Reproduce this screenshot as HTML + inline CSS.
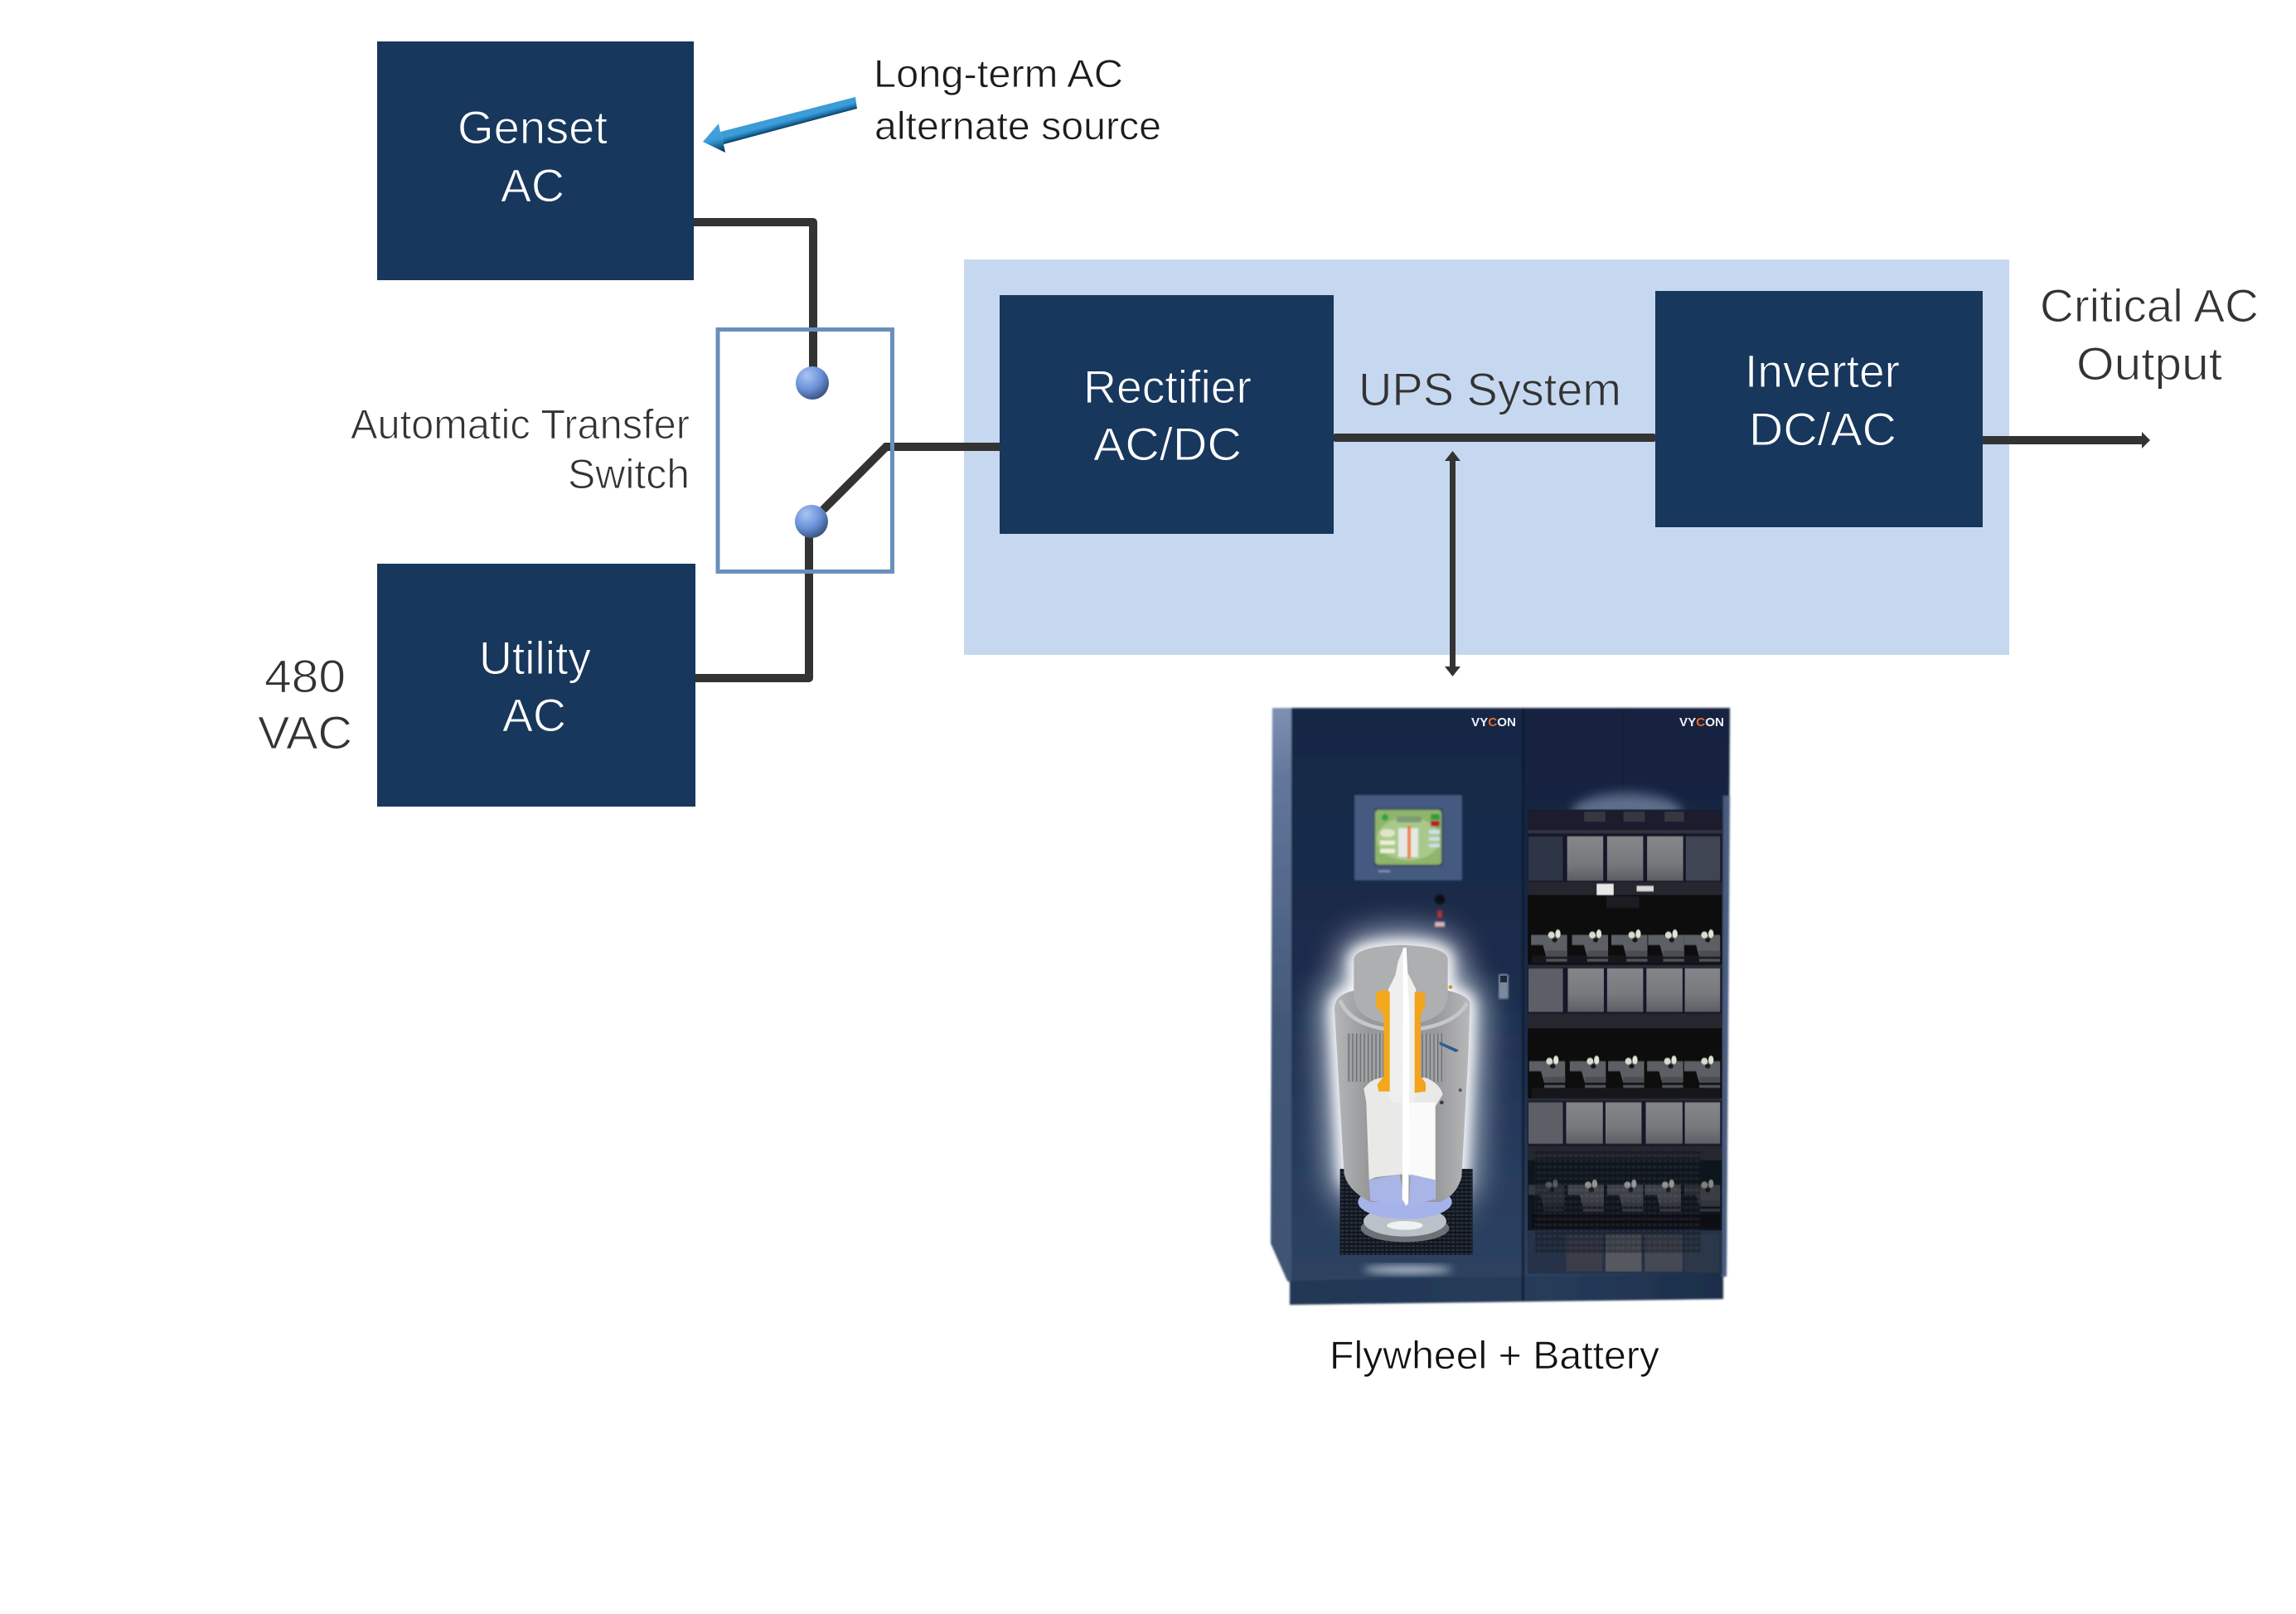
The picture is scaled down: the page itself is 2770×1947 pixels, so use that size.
<!DOCTYPE html>
<html lang="en">
<head>
<meta charset="utf-8">
<title>UPS System Diagram</title>
<style>
html,body{margin:0;padding:0;background:#fff;width:2770px;height:1947px;overflow:hidden}
svg{display:block}
text{font-family:"Liberation Sans",sans-serif}
.w{fill:#fff;font-size:56px;stroke:#18375d;stroke-width:1px}
.d{fill:#333;font-size:56px;stroke:#fff;stroke-width:1px}
.k{fill:#1c1c1c;font-size:47px;stroke:#fff;stroke-width:.7px}
</style>
</head>
<body>
<svg width="2770" height="1947" viewBox="0 0 2770 1947" xmlns="http://www.w3.org/2000/svg">
<defs>
  <linearGradient id="arr" gradientUnits="userSpaceOnUse" x1="950" y1="138" x2="954" y2="153">
    <stop offset="0" stop-color="#3f9bd3"/><stop offset=".45" stop-color="#3a9edb"/><stop offset=".75" stop-color="#1a6ea6"/><stop offset="1" stop-color="#062f4e"/>
  </linearGradient>
  <linearGradient id="arrh" gradientUnits="userSpaceOnUse" x1="866" y1="149" x2="875" y2="184">
    <stop offset="0" stop-color="#4ba3d8"/><stop offset=".5" stop-color="#3a9edb"/><stop offset=".8" stop-color="#135a8a"/><stop offset="1" stop-color="#052a45"/>
  </linearGradient>
  <radialGradient id="ball" cx=".35" cy=".28" r=".85">
    <stop offset="0" stop-color="#a9c4f2"/><stop offset=".5" stop-color="#6a92d8"/><stop offset="1" stop-color="#2b3f66"/>
  </radialGradient>
  <linearGradient id="door" x1="0" y1="0" x2="0" y2="1">
    <stop offset="0" stop-color="#172845"/><stop offset=".45" stop-color="#1b2c4c"/><stop offset=".75" stop-color="#273a5c"/><stop offset="1" stop-color="#2e4362"/>
  </linearGradient>
  <linearGradient id="door2" x1="0" y1="0" x2="0" y2="1">
    <stop offset="0" stop-color="#14223f"/><stop offset=".6" stop-color="#1c2c4a"/><stop offset="1" stop-color="#2e4362"/>
  </linearGradient>
  <linearGradient id="side" x1="0" y1="0" x2="0" y2="1">
    <stop offset="0" stop-color="#7e90b2"/><stop offset=".12" stop-color="#63779c"/><stop offset=".55" stop-color="#435879"/><stop offset="1" stop-color="#3f5574"/>
  </linearGradient>
  <linearGradient id="plinth" x1="0" y1="0" x2="1" y2="0">
    <stop offset="0" stop-color="#233754"/><stop offset=".6" stop-color="#263c5a"/><stop offset="1" stop-color="#1c2e4a"/>
  </linearGradient>
  <linearGradient id="cyl" x1="0" y1="0" x2="1" y2="0">
    <stop offset="0" stop-color="#b5b6b7"/><stop offset=".25" stop-color="#97989a"/><stop offset=".75" stop-color="#98999b"/><stop offset="1" stop-color="#b7b8b9"/>
  </linearGradient>
  <linearGradient id="bat" x1="0" y1="0" x2="0" y2="1">
    <stop offset="0" stop-color="#84868a"/><stop offset=".6" stop-color="#77797d"/><stop offset="1" stop-color="#5d5f64"/>
  </linearGradient>
  <pattern id="fins" width="14" height="10" patternUnits="userSpaceOnUse">
    <rect width="14" height="10" fill="#a0a1a3"/><rect width="4" height="10" fill="#6a6c70"/>
  </pattern>
  <pattern id="grill" width="16" height="14" patternUnits="userSpaceOnUse">
    <rect width="16" height="14" fill="#10121a"/><rect x="1" y="2" width="12" height="7" fill="#2c3040"/>
  </pattern>
  <filter id="soft" x="-5%" y="-5%" width="110%" height="110%"><feGaussianBlur stdDeviation="1"/></filter>
  <filter id="gl" x="-60%" y="-60%" width="220%" height="220%"><feGaussianBlur stdDeviation="55"/></filter>
  <filter id="gl2" x="-40%" y="-40%" width="180%" height="180%"><feGaussianBlur stdDeviation="22"/></filter>
  <filter id="gl3" x="-40%" y="-40%" width="180%" height="180%"><feGaussianBlur stdDeviation="14"/></filter>
  <g id="b">
    <polygon points="0,0 110,0 110,52 46,52 36,24 0,24" fill="#5c5e63"/>
    <rect x="46" y="38" width="64" height="14" fill="#4c4e53"/>
    <rect x="46" y="58" width="64" height="6" fill="#55575b"/>
    <ellipse cx="72" cy="12" rx="8" ry="6" fill="#15161a"/>
    <ellipse cx="62" cy="0" rx="10" ry="8" fill="#d8dccc"/>
    <ellipse cx="82" cy="-3" rx="8" ry="10" fill="#e2e4d6"/>
  </g>
</defs>

<!-- UPS group background -->
<rect x="1163" y="313" width="1261" height="477" fill="#c6d8ef"/>

<!-- connectors -->
<g fill="none" stroke="#333" stroke-width="10">
  <path d="M837 268H981V445" stroke-linejoin="round"/>
  <path d="M839 818H976V640" stroke-linejoin="round"/>
  <path d="M993 615L1069 539H1206"/>
</g>
<rect x="1609" y="523" width="388" height="10" rx="2" fill="#333"/>
<rect x="2392" y="526" width="194" height="10" fill="#333"/>
<polygon points="2584,521 2594,531 2584,541" fill="#333"/>
<rect x="1749" y="552" width="7" height="256" fill="#333"/>
<polygon points="1752.5,544 1762,556 1743,556" fill="#333"/>
<polygon points="1752.5,816 1762,804 1743,804" fill="#333"/>

<!-- switch box -->
<rect x="866" y="397.5" width="210.5" height="292" fill="none" stroke="#6a8fbb" stroke-width="5"/>
<ellipse cx="980" cy="462" rx="20" ry="20" fill="url(#ball)"/>
<ellipse cx="979" cy="629" rx="20" ry="20" fill="url(#ball)"/>

<!-- blocks -->
<g fill="#18375d">
  <rect x="455" y="50" width="382" height="288"/>
  <rect x="455" y="680" width="384" height="293"/>
  <rect x="1206" y="356" width="403" height="288"/>
  <rect x="1997" y="351" width="395" height="285"/>
</g>

<!-- blue arrow -->
<polygon points="869,159 1032,117 1034,131 873,174" fill="url(#arr)"/>
<polygon points="848,171 867,149 869,159 873,174 875,184" fill="url(#arrh)"/>

<!-- labels -->
<text class="w" x="552" y="173" textLength="181" lengthAdjust="spacingAndGlyphs">Genset</text>
<text class="w" x="604" y="243" textLength="77" lengthAdjust="spacingAndGlyphs">AC</text>
<text class="w" x="578" y="813" textLength="135" lengthAdjust="spacingAndGlyphs">Utility</text>
<text class="w" x="606" y="882" textLength="77" lengthAdjust="spacingAndGlyphs">AC</text>
<text class="w" x="1307" y="486" textLength="203" lengthAdjust="spacingAndGlyphs">Rectifier</text>
<text class="w" x="1319" y="555" textLength="179" lengthAdjust="spacingAndGlyphs">AC/DC</text>
<text class="w" x="2105" y="467" textLength="187" lengthAdjust="spacingAndGlyphs">Inverter</text>
<text class="w" x="2110" y="537" textLength="178" lengthAdjust="spacingAndGlyphs">DC/AC</text>
<text class="d" style="stroke:#c6d8ef" x="1639" y="489" textLength="317" lengthAdjust="spacingAndGlyphs">UPS System</text>
<text class="d" x="2461" y="388" textLength="264" lengthAdjust="spacingAndGlyphs">Critical AC</text>
<text class="d" x="2505" y="458" textLength="176" lengthAdjust="spacingAndGlyphs">Output</text>
<text class="d" x="319" y="835" textLength="98" lengthAdjust="spacingAndGlyphs">480</text>
<text class="d" x="311" y="903" textLength="114" lengthAdjust="spacingAndGlyphs">VAC</text>
<text class="d" style="font-size:50px" x="423" y="529" textLength="409" lengthAdjust="spacingAndGlyphs">Automatic Transfer</text>
<text class="d" style="font-size:50px" x="685" y="589" textLength="147" lengthAdjust="spacingAndGlyphs">Switch</text>
<text class="k" x="1054" y="105" textLength="301" lengthAdjust="spacingAndGlyphs">Long-term AC</text>
<text class="k" x="1055" y="168" textLength="346" lengthAdjust="spacingAndGlyphs">alternate source</text>
<text class="k" style="fill:#111" x="1604" y="1651" textLength="398" lengthAdjust="spacingAndGlyphs">Flywheel + Battery</text>

<!-- cabinet photo -->
<g>
  <g filter="url(#soft)">
    <polygon points="1535,854 1558,854 1558,1548 1553,1545 1533,1500" fill="url(#side)"/>
    <rect x="1558" y="854" width="280" height="694" fill="url(#door)"/>
    <polygon points="1838,854 2087,854 2083,1540 1838,1548" fill="url(#door2)"/>
    <polygon points="1556,1545 2079,1535 2079,1567 1556,1574" fill="url(#plinth)"/>
    <rect x="1836" y="854" width="3" height="715" fill="#101c33"/>
    <rect x="1958" y="854" width="1.5" height="120" fill="#0f1a33"/>
    <polygon points="2079,960 2087,960 2083,1540 2077,1540" fill="#4a5c7e"/>
  </g>

  <!-- rack -->
  <g transform="matrix(.3954 0 0 .4975 1500 820)">
    <ellipse cx="1170" cy="325" rx="170" ry="50" fill="#8ea0bd" opacity=".6" filter="url(#gl3)"/>
    <g filter="url(#soft)">
      <rect x="868" y="315" width="592" height="1125" fill="#14192a"/>
      <!-- row 1 -->
      <rect x="868" y="315" width="592" height="60" fill="#1a1f2e"/>
      <g fill="#34373f">
        <rect x="1040" y="320" width="65" height="24"/><rect x="1160" y="320" width="65" height="24"/><rect x="1285" y="320" width="60" height="24"/>
      </g>
      <rect x="868" y="365" width="592" height="7" fill="#33353b"/>
      <rect x="870" y="380" width="105" height="107" fill="#2f3646"/>
      <rect x="988" y="380" width="110" height="107" fill="url(#bat)"/>
      <rect x="1110" y="380" width="110" height="107" fill="url(#bat)"/>
      <rect x="1232" y="380" width="110" height="107" fill="url(#bat)"/>
      <rect x="1350" y="380" width="105" height="107" fill="#3f4553"/>
      <rect x="868" y="490" width="592" height="32" fill="#26282e"/>
      <rect x="1078" y="495" width="52" height="27" fill="#e8e8e8"/>
      <rect x="1200" y="500" width="52" height="13" fill="#d8d8d8"/>
      <!-- row 2 -->
      <rect x="868" y="522" width="592" height="168" fill="#07080b"/>
      <rect x="1108" y="525" width="100" height="28" fill="#1c1d22"/>
      <rect x="880" y="668" width="575" height="20" fill="#17181d"/>
      <use href="#b" x="878" y="619"/><use href="#b" x="1003" y="619"/><use href="#b" x="1123" y="619"/><use href="#b" x="1235" y="619"/><use href="#b" x="1345" y="619"/>
      <!-- row 3 -->
      <rect x="868" y="692" width="592" height="6" fill="#2c2e34"/>
      <rect x="870" y="700" width="105" height="105" fill="#5c5f65"/>
      <rect x="990" y="700" width="110" height="105" fill="url(#bat)"/>
      <rect x="1110" y="700" width="110" height="105" fill="url(#bat)"/>
      <rect x="1230" y="700" width="110" height="105" fill="url(#bat)"/>
      <rect x="1347" y="700" width="108" height="105" fill="url(#bat)"/>
      <rect x="868" y="810" width="592" height="35" fill="#26282e"/>
      <!-- row 4 -->
      <rect x="868" y="845" width="592" height="170" fill="#0a0b0f"/>
      <rect x="880" y="990" width="575" height="23" fill="#18191e"/>
      <use href="#b" x="872" y="925"/><use href="#b" x="996" y="925"/><use href="#b" x="1113" y="925"/><use href="#b" x="1232" y="925"/><use href="#b" x="1345" y="925"/>
      <!-- row 5 -->
      <rect x="868" y="1015" width="592" height="6" fill="#2c2e34"/>
      <rect x="870" y="1025" width="105" height="100" fill="#5b5e65"/>
      <rect x="985" y="1025" width="112" height="100" fill="url(#bat)"/>
      <rect x="1105" y="1025" width="110" height="100" fill="url(#bat)"/>
      <rect x="1228" y="1025" width="112" height="100" fill="url(#bat)"/>
      <rect x="1347" y="1025" width="108" height="100" fill="url(#bat)"/>
      <rect x="868" y="1130" width="592" height="35" fill="#26282e"/>
      <!-- row 6 -->
      <rect x="868" y="1165" width="592" height="170" fill="#11151f"/>
      <rect x="880" y="1295" width="575" height="35" fill="#0f1117"/>
      <use href="#b" x="870" y="1225" opacity=".5"/><use href="#b" x="990" y="1225"/><use href="#b" x="1110" y="1225"/><use href="#b" x="1225" y="1225"/><use href="#b" x="1345" y="1225" opacity=".55"/>
      <!-- row 7 -->
      <rect x="868" y="1335" width="592" height="105" fill="#263246"/>
      <rect x="985" y="1345" width="110" height="90" fill="#3a3e4a"/>
      <rect x="1105" y="1345" width="110" height="90" fill="#55585f"/>
      <rect x="1225" y="1345" width="115" height="90" fill="#454852"/>
      <rect x="1347" y="1345" width="105" height="90" fill="#2c3848"/>
      <rect x="890" y="1140" width="505" height="250" fill="url(#grill)" opacity=".4"/>
    </g>
  </g>

  <!-- control panel -->
  <g filter="url(#soft)">
    <rect x="1634" y="959" width="130" height="103" fill="#445a80"/>
    <rect x="1658" y="975" width="83" height="70" fill="#3a4658"/>
    <rect x="1659" y="977" width="80" height="66" rx="4" fill="#8fb46c"/>
    <ellipse cx="1699" cy="1012" rx="38" ry="26" fill="#a9c98a"/>
    <circle cx="1671" cy="986" r="4" fill="#25a73b"/>
    <rect x="1685" y="985" width="30" height="7" rx="2" fill="#7e9a72"/>
    <rect x="1687" y="999" width="24" height="35" fill="#e6e8e4"/>
    <rect x="1698" y="996" width="4" height="40" fill="#ec7a25"/>
    <rect x="1726" y="982" width="11" height="7" fill="#2f9c3c"/>
    <rect x="1726" y="990" width="11" height="7" fill="#b02126"/>
    <rect x="1724" y="1001" width="13" height="5" fill="#cfe0e8"/>
    <rect x="1724" y="1010" width="13" height="4" fill="#cfe0e8"/>
    <rect x="1724" y="1018" width="13" height="4" fill="#cfe0e8"/>
    <ellipse cx="1674" cy="1005" rx="9" ry="5" fill="#dfe6c8"/>
    <rect x="1665" y="1014" width="18" height="5" fill="#eef2d8"/>
    <rect x="1665" y="1024" width="18" height="5" fill="#eef2d8"/>
    <rect x="1663" y="1050" width="14" height="2" fill="#8a9ab5"/>
    <circle cx="1737" cy="1085" r="6" fill="#0a0e18"/>
    <rect x="1734" y="1098" width="6" height="9" fill="#a8262e"/>
    <rect x="1731" y="1112" width="12" height="6" fill="#dfa5ae"/>
  </g>

  <!-- logos -->
  <text x="1775" y="876" font-size="15" font-weight="700" fill="#eef1f6" textLength="54" lengthAdjust="spacingAndGlyphs">VY<tspan fill="#e8682a">C</tspan>ON</text>
  <text x="2026" y="876" font-size="15" font-weight="700" fill="#eef1f6" textLength="54" lengthAdjust="spacingAndGlyphs">VY<tspan fill="#e8682a">C</tspan>ON</text>

  <!-- door handle -->
  <rect x="1808" y="1175" width="12" height="30" rx="2" fill="#76849a" filter="url(#soft)"/>
  <rect x="1810" y="1177" width="8" height="8" fill="#1b2436"/>

  <!-- flywheel -->
  <g transform="translate(1580 1100) scale(.33333)">
    <path d="M160 170Q170 125 330 120Q495 125 500 170V285Q570 300 580 330L575 500L550 960Q530 1030 470 1050H220Q140 1010 125 950L90 350Q90 300 160 285Z" fill="#dfe5ee" stroke="#dfe5ee" stroke-width="110" opacity=".75" filter="url(#gl)"/>
    <path d="M160 170Q170 125 330 120Q495 125 500 170V285Q570 300 580 330L575 500L550 960Q530 1030 470 1050H220Q140 1010 125 950L90 350Q90 300 160 285Z" fill="#fff" stroke="#fff" stroke-width="40" opacity=".9" filter="url(#gl2)"/>
    <ellipse cx="355" cy="1295" rx="160" ry="14" fill="#dfe6f0" opacity=".8" filter="url(#gl3)"/>
    <g filter="url(#soft)">
      <rect x="110" y="930" width="480" height="312" fill="url(#grill)"/>
      <ellipse cx="345" cy="1145" rx="160" ry="50" fill="#6d7074"/>
      <ellipse cx="345" cy="1120" rx="150" ry="55" fill="#b9c2c8"/>
      <ellipse cx="345" cy="1135" rx="65" ry="16" fill="#eef2f3"/>
      <ellipse cx="345" cy="1050" rx="170" ry="62" fill="#a6b3ea"/>
      <path d="M90 350Q90 300 160 285H500Q570 300 580 330L575 500L550 960Q530 1030 470 1050H220Q140 1010 125 950Z" fill="url(#cyl)"/>
      <path d="M160 170Q170 125 330 120Q495 125 500 170V300Q500 400 330 410Q160 400 160 300Z" fill="#adafb1"/>
      <path d="M110 320Q150 420 330 430Q520 420 570 330" fill="none" stroke="#c5c7ca" stroke-width="14"/>
      <rect x="135" y="440" width="135" height="175" fill="url(#fins)"/>
      <rect x="400" y="440" width="90" height="175" fill="url(#fins)"/>
      <!-- cut section -->
      <path d="M205 690L196 640Q225 600 270 600H420Q470 620 482 660L455 705V1040H430L360 950H330L240 960L215 970Z" fill="#e9e9e7"/>
      <path d="M345 690H455V1040L430 1040L360 950H345Z" fill="#fafafa"/>
      <path d="M215 970L325 950L350 1065L220 1045Z" fill="#a9b5e6"/>
      <path d="M365 950L455 970V1040L360 1065Z" fill="#a9b5e6"/>
      <path d="M320 180L340 130L350 130L355 220L385 280V660L375 690H300L285 660V280L310 230Z" fill="#efefed"/>
      <path d="M240 290L275 282L290 290V650L250 650L245 625L268 595V375L240 340Z" fill="#f3a81e"/>
      <path d="M380 290L418 292V340L402 375V595L420 620V650L380 655Z" fill="#f1a41c"/>
      <path d="M338 130H350L362 400L358 1050L350 1065L335 1040L338 400Z" fill="#fff"/>
      <path d="M470 470L540 500L530 508L470 480Z" fill="#2a5b8f"/>
      <circle cx="478" cy="690" r="7" fill="#3b3d40"/>
      <circle cx="545" cy="645" r="6" fill="#55575a"/>
      <circle cx="510" cy="272" r="7" fill="#c79a35"/>
    </g>
  </g>
</g>
</svg>
</body>
</html>
